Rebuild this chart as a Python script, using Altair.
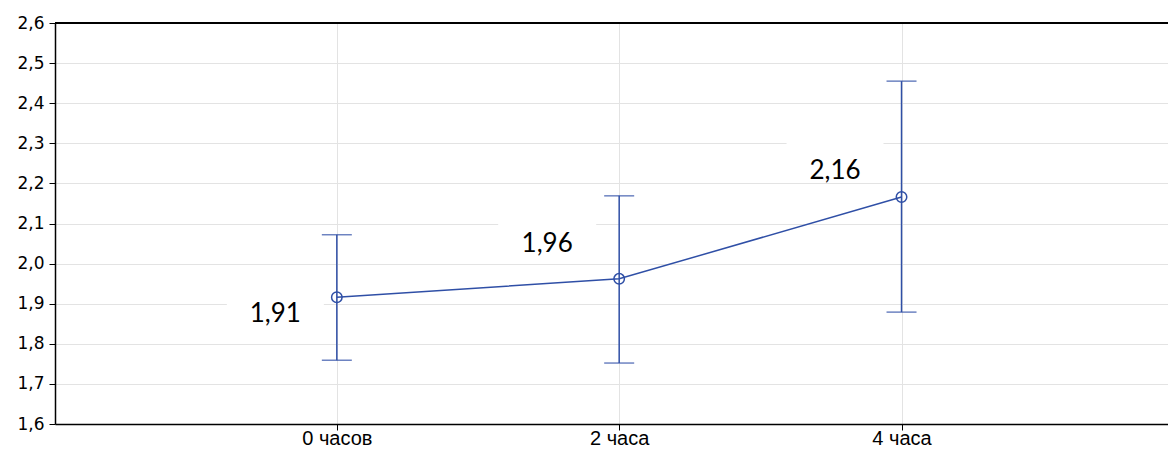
import altair as alt
import pandas as pd

categories = ["0 часов", "2 часа", "4 часа"]
means = [1.916, 1.962, 2.166]
lower = [1.759, 1.752, 1.879]
upper = [2.072, 2.169, 2.455]
labels = ["1,91", "1,96", "2,16"]

df = pd.DataFrame({"cat": categories, "mean": means, "lo": lower, "hi": upper, "lab": labels})

BLUE = "#2F4FA6"
W, H = 1113, 401

xscale = alt.Scale(type="point", domain=categories, padding=0.971, align=0.514)
yscale = alt.Scale(domain=[1.6, 2.6], nice=False, zero=False)

x_enc = alt.X("cat:N", scale=xscale, sort=categories, title=None,
              axis=alt.Axis(labelAngle=0, labelFont="Liberation Sans", labelFontSize=20,
                            labelColor="black", labelBaseline="alphabetic", labelPadding=14,
                            tickSize=6, tickColor="black",
                            domainColor="black", domainWidth=1.5, gridColor="#e3e3e3", grid=True))
y_enc = alt.Y("mean:Q", scale=yscale, title=None,
              axis=alt.Axis(values=[1.6 + 0.1 * i for i in range(11)],
                            labelExpr="replace(format(datum.value, '.1f'), '.', ',')",
                            labelFont="DejaVu Sans", labelFontSize=17, labelColor="black",
                            labelPadding=5, tickSize=6, tickColor="black", domainColor="black",
                            domainWidth=1.5, gridColor="#e3e3e3"))

base = alt.Chart(df)

grid_layer = base.mark_point(opacity=0).encode(x=x_enc, y=y_enc)

top_border = base.mark_rule(color="black", strokeWidth=2).encode(
    y=alt.datum(2.6), x=alt.value(0), x2=alt.value(W))

# label background boxes + texts, per-label offsets (pixels)
box_off = [(-110, -13, -12, 29), (-121, -23, -66, -23), (-115, -18, -55, -14)]
txt_off = [(-61.5, 24.7), (-72, -27), (-66.5, -17.7)]

boxes = []
texts = []
for i, cat in enumerate(categories):
    sub = base.transform_filter(alt.datum.cat == cat)
    x0, x1, y0, y1 = box_off[i]
    boxes.append(sub.mark_rect(color="white", xOffset=x0, x2Offset=x1, yOffset=y0, y2Offset=y1).encode(
        x=alt.X("cat:N", scale=xscale), x2="cat:N",
        y=alt.Y("mean:Q", scale=yscale), y2="mean:Q"))
    dx, dy = txt_off[i]
    texts.append(sub.mark_text(font="Lato", fontSize=26, color="black", align="center",
                               baseline="alphabetic", dx=dx, dy=dy).encode(
        x=alt.X("cat:N", scale=xscale), y=alt.Y("mean:Q", scale=yscale), text="lab:N"))

err_rule = base.mark_rule(color=BLUE, strokeWidth=1.5).encode(
    x=alt.X("cat:N", scale=xscale), y=alt.Y("lo:Q", scale=yscale), y2="hi:Q")
cap_lo = base.mark_tick(color=BLUE, size=30, thickness=1.5).encode(
    x=alt.X("cat:N", scale=xscale), y=alt.Y("lo:Q", scale=yscale))
cap_hi = base.mark_tick(color=BLUE, size=30, thickness=1.5).encode(
    x=alt.X("cat:N", scale=xscale), y=alt.Y("hi:Q", scale=yscale))
line = base.mark_line(color=BLUE, strokeWidth=1.5).encode(
    x=alt.X("cat:N", scale=xscale, sort=categories), y=alt.Y("mean:Q", scale=yscale))
pts = base.mark_point(shape="circle", size=110, color=BLUE, strokeWidth=1.5, filled=False, opacity=1).encode(
    x=alt.X("cat:N", scale=xscale), y=alt.Y("mean:Q", scale=yscale))

chart = alt.layer(grid_layer, *boxes, top_border, err_rule, cap_lo, cap_hi, line, pts, *texts).properties(
    width=W, height=H,
    autosize=alt.AutoSizeParams(type="none"),
    padding={"left": 47, "top": 15, "right": 0, "bottom": 25},
    background="white",
).configure_view(stroke=None)

chart.save("out.html", embed_options={"renderer": "svg", "actions": False})
